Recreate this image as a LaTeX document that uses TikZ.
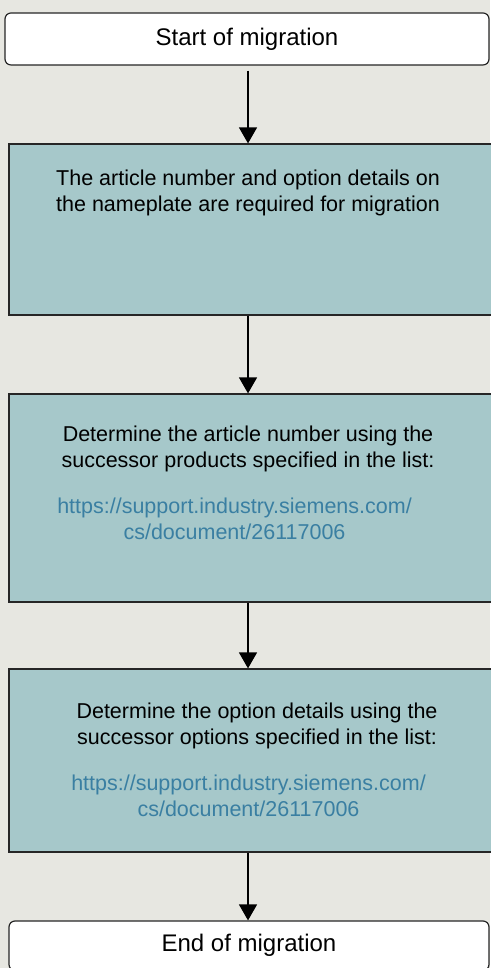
\documentclass[tikz,border=0pt]{standalone}
\usepackage{fontspec}
\setmainfont{Liberation Sans}
\usetikzlibrary{arrows.meta,positioning}
\definecolor{pagebg}{HTML}{E7E7E1}
\definecolor{stepfill}{HTML}{A6C8CA}
\definecolor{stepbd}{HTML}{262626}
\definecolor{linkblue}{HTML}{3A7FA2}
\tikzset{
  terminal/.style={draw=stepbd,fill=white,rounded corners=6pt,line width=1.2pt,
                   font=\fontsize{24}{29}\selectfont},
  stepbox/.style={draw=stepbd,fill=stepfill,line width=1.2pt},
  steptext/.style={inner sep=0pt,anchor=north,align=center,
                   font=\fontsize{21.5}{26}\selectfont},
  linktext/.style={steptext,text=linkblue},
  flowarrow/.style={-{Triangle[length=16pt,width=18pt]},line width=1.4pt},
}
\begin{document}
\begin{tikzpicture}[x=1pt,y=1pt]
  \fill[pagebg](0,0)rectangle(490,968);
  \useasboundingbox(0,0)rectangle(490,968);
  \coordinate(axis)at(248,0);
  % terminals
  \node[terminal,minimum width=484pt,minimum height=52pt]
    (start)at(247,929){Start of migration};
  \node[terminal,minimum width=480pt,minimum height=49.5pt]
    (end)at(249,22.25){End of migration};
  % steps (right side runs off the page)
  \node[stepbox,minimum width=520pt,minimum height=171pt](box1)at(269,738.5){};
  \node[stepbox,minimum width=520pt,minimum height=208pt](box2)at(269,470){};
  \node[stepbox,minimum width=520pt,minimum height=183pt](box3)at(269,207.5){};
  \node[steptext](txt1)at(248,798.7)
    {The article number and option details on\\the nameplate are required for migration};
  \node[steptext](txt2)at(248,542.5)
    {Determine the article number using the\\successor products specified in the list:};
  \node[linktext](url2)at(234.5,470)
    {https://support.industry.siemens.com/\\cs/document/26117006};
  \node[steptext](txt3)at(257,265)
    {Determine the option details using the\\successor options specified in the list:};
  \node[linktext](url3)at(248.5,193.7)
    {https://support.industry.siemens.com/\\cs/document/26117006};
  % flow
  \draw[flowarrow,shorten <=5pt](start.south -| axis)--(box1.north -| axis);
  \draw[flowarrow](box1.south -| axis)--(box2.north -| axis);
  \draw[flowarrow](box2.south -| axis)--(box3.north -| axis);
  \draw[flowarrow](box3.south -| axis)--(end.north -| axis);
\end{tikzpicture}
\end{document}
